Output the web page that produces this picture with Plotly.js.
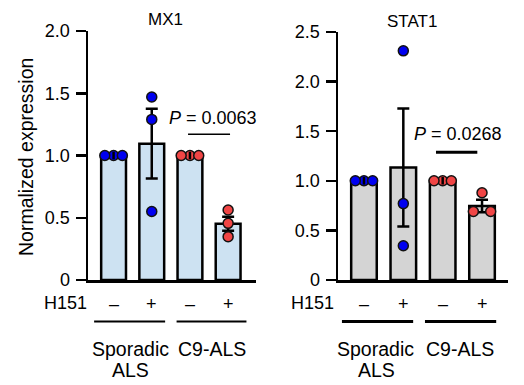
<!DOCTYPE html>
<html><head><meta charset="utf-8">
<script src="https://cdn.plot.ly/plotly-3.0.1.min.js"></script>
<style>html,body{margin:0;padding:0;background:#fff}</style>
</head><body><div id="chart" style="width:524px;height:385px"></div>
<script>
// ---- data ----
const treatment = ["–", "+", "–", "+"];
const groupLine1 = ["Sporadic", "C9-ALS"];
const groupLine2 = ["ALS", ""];
const panelTitles = ["MX1", "STAT1"];
const mx1Mean = [1.0, 1.095, 1.0, 0.452];
const mx1Sem = [0, 0.28, 0, 0.057];
const mx1Points = [[1.0, 1.0, 1.0], [1.47, 1.29, 0.55], [1.0, 1.0, 1.0], [0.562, 0.455, 0.348]];
const stat1Mean = [1.0, 1.135, 1.0, 0.745];
const stat1Sem = [0, 0.595, 0, 0.063];
const stat1Points = [[1.0, 1.0, 1.0], [2.31, 0.77, 0.345], [1.0, 1.0, 1.0], [0.88, 0.69, 0.69]];
const pValues = ["0.0063", "0.0268"];
const yTicks1 = [0, 0.5, 1.0, 1.5, 2.0];
const yTickText1 = ["0", "0.5", "1.0", "1.5", "2.0"];
const yTicks2 = [0, 0.5, 1.0, 1.5, 2.0, 2.5];
const yTickText2 = ["0", "0.5", "1.0", "1.5", "2.0", "2.5"];

// ---- styling / layout helpers ----
const FONT = "Liberation Sans, Arial, Helvetica, sans-serif";
const TXT = "#000";
const W = 524, H = 385;
const px = v => v / W;
const py = v => (H - v) / H;
const blue = "#0000f0", red = "#f04545";
const ptColors = [blue, blue, red, red];
const jitterMX1 = [[0, -1, 1], [0, 0, 0], [0, -1, 1], [0, 0, 0]];
const jitterSTAT1 = [[0, -1, 1], [0, 0, 0], [0, -1, 1], [0, -1, 1]];
const xi = [0, 1, 2, 3];

function panel(means, sems, points, jit, xa, ya, fill, jstep, capHalf) {
  const tr = [];
  tr.push({type: "bar", x: xi, y: means, xaxis: xa, yaxis: ya, width: 0.65,
    marker: {color: fill, line: {color: "#000", width: 2.5}}, hoverinfo: "skip"});
  const ex = [], ey = [], ee = [];
  sems.forEach((s, i) => { if (s > 0) { ex.push(i); ey.push(means[i]); ee.push(s); } });
  tr.push({type: "scatter", mode: "markers", x: ex, y: ey, xaxis: xa, yaxis: ya,
    marker: {size: 1, color: "rgba(0,0,0,0)"},
    error_y: {type: "data", array: ee, visible: true, color: "#000", thickness: 2.5, width: 6},
    hoverinfo: "skip"});
  points.forEach((g, i) => {
    tr.push({type: "scatter", mode: "markers", xaxis: xa, yaxis: ya,
      x: g.map((v, k) => i + jit[i][k] * jstep), y: g,
      marker: {size: 10, color: ptColors[i], line: {color: "#111", width: 1.5}},
      hoverinfo: "skip"});
  });
  // zero-SEM error bar drawn as short vertical tick at the mean
  const zx = [], zy = [];
  sems.forEach((s, i) => { if (s === 0) { zx.push(i, i, null); zy.push(means[i] - capHalf, means[i] + capHalf, null); } });
  tr.push({type: "scatter", mode: "lines", x: zx, y: zy, xaxis: xa, yaxis: ya,
    line: {color: "#000", width: 2.5}, hoverinfo: "skip"});
  return tr;
}

const data = [
  ...panel(mx1Mean, mx1Sem, mx1Points, jitterMX1, "x", "y", "#cde2f2", 0.23, 0.03),
  ...panel(stat1Mean, stat1Sem, stat1Points, jitterSTAT1, "x2", "y2", "#d4d4d4", 0.22, 0.038)
];

const xBase = {showgrid: false, zeroline: false, showline: true, linecolor: "#000", linewidth: 2.5,
  ticks: "", showticklabels: false, fixedrange: true};
const yBase = {showgrid: false, zeroline: false, showline: true, linecolor: "#000", linewidth: 2.5,
  ticks: "outside", ticklen: 10, tickwidth: 2.5, tickcolor: "#000",
  tickfont: {family: FONT, size: 18, color: TXT}, ticklabelstandoff: 2, fixedrange: true};

const ann = [];
const shapes = [];
const txt = (o) => Object.assign({showarrow: false, xanchor: "center", yanchor: "middle",
  font: {family: FONT, size: 18, color: TXT}}, o);

// titles
ann.push(txt({xref: "paper", yref: "paper", x: px(166), y: py(19), text: panelTitles[0], font: {family: FONT, size: 17, color: TXT}}));
ann.push(txt({xref: "paper", yref: "paper", x: px(412), y: py(21), text: panelTitles[1], font: {family: FONT, size: 17, color: TXT}}));
// y title
ann.push(txt({xref: "paper", yref: "paper", x: px(26), y: py(157), text: "Normalized expression", textangle: -90, font: {family: FONT, size: 19.5, color: TXT}}));

// bottom labels per panel
const panels = [
  {xr: "x", h151: 89, lines: [[-0.51, 1.35], [1.65, 3.48]], lw: 2, g1: [0.43, 2.59], g2: [0.43]},
  {xr: "x2", h151: 336, lines: [[-0.56, 1.25], [1.55, 3.36]], lw: 3, g1: [0.30, 2.44], g2: [0.31]}
];
panels.forEach(p => {
  ann.push(txt({xref: "paper", yref: "paper", x: px(p.h151), y: py(303), xanchor: "right", text: "H151"}));
  treatment.forEach((t, i) => ann.push(txt({xref: p.xr, yref: "paper", x: i, y: py(304), text: t})));
  p.lines.forEach(l => shapes.push({type: "line", xref: p.xr, yref: "paper", x0: l[0], x1: l[1],
    y0: py(321.5), y1: py(321.5), line: {color: "#000", width: p.lw}}));
  groupLine1.forEach((g, i) => ann.push(txt({xref: p.xr, yref: "paper", x: p.g1[i], y: py(349), text: g, font: {family: FONT, size: 19.5, color: TXT}})));
  ann.push(txt({xref: p.xr, yref: "paper", x: p.g2[0], y: py(370), text: groupLine2[0], font: {family: FONT, size: 19.5, color: TXT}}));
});

// P-value annotations
ann.push(txt({xref: "x", yref: "y", x: 2.6, y: 1.30, text: "<i>P</i> = " + pValues[0]}));
shapes.push({type: "line", xref: "x", yref: "y", x0: 1.95, x1: 3.05, y0: 1.17, y1: 1.17, line: {color: "#000", width: 1.5}});
ann.push(txt({xref: "x2", yref: "y2", x: 2.40, y: 1.469, text: "<i>P</i> = " + pValues[1]}));
shapes.push({type: "line", xref: "x2", yref: "y2", x0: 1.83, x1: 2.88, y0: 1.287, y1: 1.287, line: {color: "#000", width: 3}});

const layout = {
  width: W, height: H, margin: {l: 0, r: 0, t: 0, b: 0},
  paper_bgcolor: "#fff", plot_bgcolor: "rgba(0,0,0,0)", showlegend: false,
  font: {family: FONT, color: TXT},
  xaxis: Object.assign({}, xBase, {domain: [px(88), px(256)], range: [-0.67, 3.73], anchor: "y"}),
  xaxis2: Object.assign({}, xBase, {domain: [px(338), px(508)], range: [-0.66, 3.66], anchor: "y2"}),
  yaxis: Object.assign({}, yBase, {domain: [py(280), py(31)], range: [0, 2], tickvals: yTicks1, ticktext: yTickText1, anchor: "x"}),
  yaxis2: Object.assign({}, yBase, {domain: [py(280), py(32)], range: [0, 2.5], tickvals: yTicks2, ticktext: yTickText2, anchor: "x2"}),
  annotations: ann, shapes: shapes
};

Plotly.newPlot("chart", data, layout, {displayModeBar: false, staticPlot: true});
</script></body></html>
